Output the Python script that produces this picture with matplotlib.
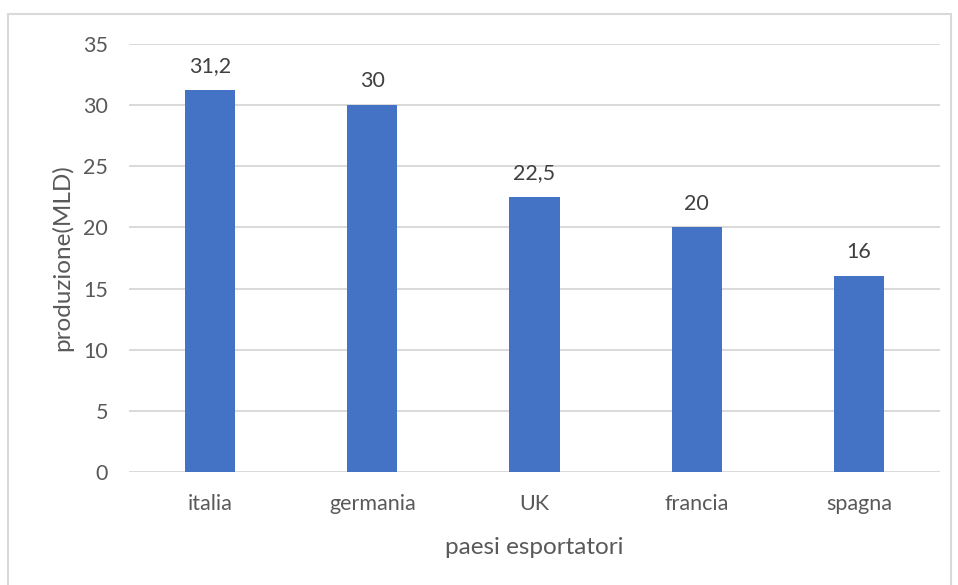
import matplotlib
matplotlib.use("Agg")
import matplotlib.pyplot as plt
from matplotlib.patches import Rectangle

paesi = ["italia", "germania", "UK", "francia", "spagna"]
produzione = [31.2, 30, 22.5, 20, 16]
etichette = ["31,2", "30", "22,5", "20", "16"]
y_ticks = [0, 5, 10, 15, 20, 25, 30, 35]

plt.rcParams["font.family"] = ["Lato", "DejaVu Sans"]
testo = "#595959"

fig = plt.figure(figsize=(9.58, 5.85), dpi=100)
fig.patch.set_facecolor("white")

# chart frame
fig.add_artist(Rectangle((8 / 958, -0.01), (951 - 8) / 958, (585 - 14) / 585 + 0.01,
                         transform=fig.transFigure, fill=False,
                         edgecolor="#D9D9D9", linewidth=1.5))

ax = fig.add_axes([129 / 958, (585 - 472) / 585, (940 - 129) / 958, (472 - 44) / 585])
x = range(len(paesi))
ax.bar(x, produzione, width=0.31, color="#4472C4", zorder=3)

for xi, v, lab in zip(x, produzione, etichette):
    ax.annotate(lab, (xi, v), xytext=(0, 10), textcoords="offset points",
                ha="center", va="bottom", fontsize=15.5, color="#404040")

ax.set_xlim(-0.5, len(paesi) - 0.5)
ax.set_ylim(0, 35)
ax.set_yticks(y_ticks)
ax.set_xticks(list(x))
ax.set_xticklabels(paesi)
ax.grid(axis="y", color="#D9D9D9", linewidth=1.4, zorder=0)
ax.set_axisbelow(True)
for s in ax.spines.values():
    s.set_visible(False)
ax.tick_params(axis="both", length=0, labelsize=15.5, labelcolor=testo)
ax.tick_params(axis="y", pad=15)
ax.tick_params(axis="x", pad=16)

ax.set_xlabel("paesi esportatori", fontsize=17.5, color=testo, va="center")
ax.set_ylabel("produzione(MLD)", fontsize=17.5, color=testo, va="center")
ax.xaxis.set_label_coords(0.5, -0.176)
ax.yaxis.set_label_coords(-0.082, 0.5)

fig.savefig("out.png", dpi=100, facecolor="white")
